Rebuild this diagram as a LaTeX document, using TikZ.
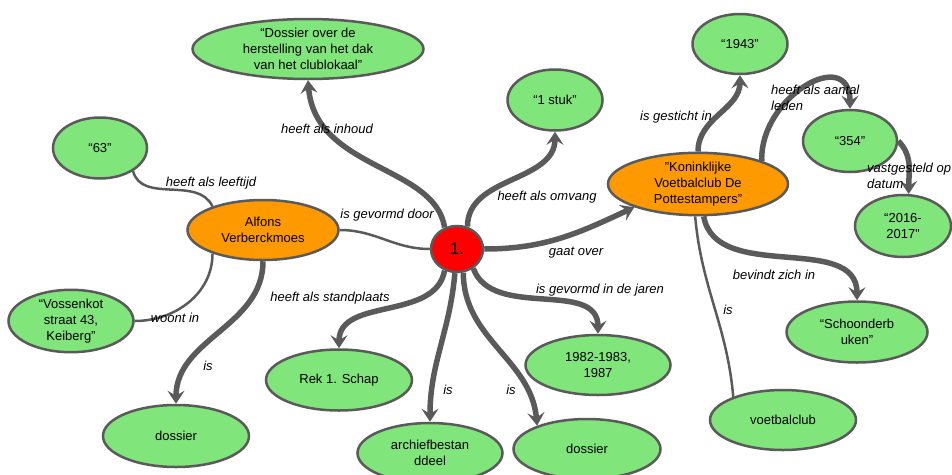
\documentclass[tikz,border=0pt]{standalone}
\usepackage{fontspec}
\setmainfont{Liberation Sans}
\usetikzlibrary{arrows.meta,shapes.geometric}
\definecolor{conceptgreen}{RGB}{128,229,122}
\definecolor{conceptorange}{RGB}{255,153,0}
\definecolor{edgegray}{RGB}{90,90,90}
\begin{document}
\begin{tikzpicture}[x=1pt, y=-1pt,
  concept/.style={ellipse, draw=edgegray, line width=2.5pt, fill=conceptgreen,
    inner sep=0pt, align=center, font=\fontsize{13}{16}\selectfont},
  actor/.style={concept, fill=conceptorange},
  root/.style={concept, fill=red, font=\fontsize{17}{20}\selectfont},
  relation/.style={draw=edgegray, line width=5.5pt,
    -{Stealth[length=13pt,width=17pt,inset=5pt]}},
  thinrelation/.style={draw=edgegray, line width=2.5pt},
  linklabel/.style={inner sep=1pt, align=left, font=\fontsize{13}{16}\selectfont\itshape}]
  \useasboundingbox (0,0) rectangle (952,474);

  \node[root, minimum width=52pt, minimum height=46pt] (one) at (457,249) {1.};
  \node[concept, minimum width=231pt, minimum height=60pt] (dak) at (308,49)
    {“Dossier over de\\herstelling van het dak\\van het clublokaal”};
  \node[concept, minimum width=94pt, minimum height=61pt] (s63) at (100,148) {“63”};
  \node[actor, minimum width=151pt, minimum height=60pt] (alfons) at (263,230) {Alfons\\Verberckmoes};
  \node[concept, minimum width=125pt, minimum height=62pt] (vossen) at (71,321)
    {“Vossenkot\\straat 43,\\Keiberg”};
  \node[concept, minimum width=146pt, minimum height=62pt] (dosL) at (176,436) {dossier};
  \node[concept, minimum width=146pt, minimum height=61pt] (rek) at (339,380) {Rek 1. Schap};
  \node[concept, minimum width=145pt, minimum height=60pt] (arch) at (430,453) {archiefbestan\\ddeel};
  \node[concept, minimum width=147pt, minimum height=60pt] (dosR) at (587,449) {dossier};
  \node[concept, minimum width=145pt, minimum height=60pt] (y1982) at (598,365) {1982-1983,\\1987};
  \node[concept, minimum width=95pt, minimum height=61pt] (stuk) at (555,100) {“1 stuk”};
  \node[actor, minimum width=180pt, minimum height=60pt] (kvc) at (698,184)
    {"Koninklijke\\Voetbalclub De\\Pottestampers"};
  \node[concept, minimum width=95pt, minimum height=60pt] (y1943) at (740,44) {“1943”};
  \node[concept, minimum width=94pt, minimum height=62pt] (n354) at (850,141) {“354”};
  \node[concept, minimum width=96pt, minimum height=62pt] (n2016) at (903,226) {“2016-\\2017”};
  \node[concept, minimum width=141pt, minimum height=61pt] (schoon) at (857,332) {“Schoonderb\\uken”};
  \node[concept, minimum width=146pt, minimum height=60pt] (voetbal) at (783,420) {voetbalclub};

  \draw[relation] (one.120) .. controls (435,165) and (315,170) .. (dak.south);
  \draw[thinrelation] (alfons.east) to[out=0, in=180] (one.west);
  \draw[thinrelation] (alfons.155) to[out=115, in=-75] (s63.-35);
  \draw[thinrelation] (alfons.-155) to[out=-90, in=0] (vossen.east);
  \draw[relation] (alfons.south) to[out=-90, in=90] (dosL.north);
  \draw[relation] (one.-120) to[out=-100, in=90] (rek.north);
  \draw[relation] (one.-95) to[out=-95, in=90] (arch.north);
  \draw[relation] (one.-75) to[out=-90, in=95] (dosR.155);
  \draw[relation] (one.-50) to[out=-70, in=90] (y1982.north);
  \draw[relation] (one.east) to[out=0, in=-155] (kvc.200);
  \draw[relation] (one.65) to[out=90, in=-90] (stuk.south);
  \draw[relation] (kvc.north) to[out=90, in=-90] (y1943.south);
  \draw[relation] (kvc.20) to[out=92, in=90, looseness=1.6] (n354.north);
  \draw[relation] (n354.east) to[out=-45, in=90] (n2016.80);
  \draw[relation] (kvc.-80) to[out=-80, in=90] (schoon.north);
  \draw[thinrelation] (kvc.-95) to[out=-85, in=95] (voetbal.155);

  \node[linklabel] (linhoud) at (327,129) {heeft als inhoud};
  \node[linklabel] (lleeftijd) at (211,183) {heeft als leeftijd};
  \node[linklabel] (ldoor) at (387,215) {is gevormd door};
  \node[linklabel] (lomvang) at (547,197) {heeft als omvang};
  \node[linklabel] (lgesticht) at (676,117) {is gesticht in};
  \node[linklabel, anchor=west] (lleden) at (770,98) {heeft als aantal\\leden};
  \node[linklabel, anchor=west] (ldatum) at (866,176) {vastgesteld op\\datum};
  \node[linklabel] (lover) at (576,253) {gaat over};
  \node[linklabel] (ljaren) at (600,290) {is gevormd in de jaren};
  \node[linklabel] (lzich) at (774,275) {bevindt zich in};
  \node[linklabel] (lisvoetbal) at (728,310) {is};
  \node[linklabel] (lisdosR) at (511,390) {is};
  \node[linklabel] (lisarch) at (448,390) {is};
  \node[linklabel] (lisdosL) at (208,366) {is};
  \node[linklabel] (lstand) at (330,298) {heeft als standplaats};
  \node[linklabel] (lwoont) at (175,318) {woont in};
\end{tikzpicture}
\end{document}
